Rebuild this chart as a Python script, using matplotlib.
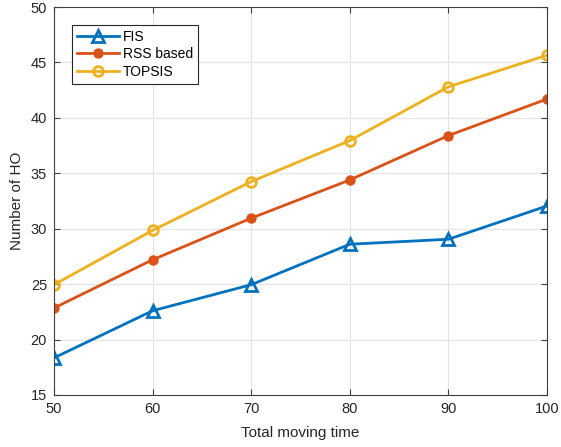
import matplotlib
matplotlib.use('Agg')
import matplotlib.pyplot as plt

plt.rcParams['font.family'] = ['Liberation Sans', 'DejaVu Sans']

# data
tiempo = [50, 60, 70, 80, 90, 100]
fis = [18.35, 22.6, 24.95, 28.6, 29.05, 32.05]
rss = [22.85, 27.2, 30.95, 34.4, 38.4, 41.7]
topsis = [24.95, 29.85, 34.25, 37.95, 42.8, 45.65]

fig = plt.figure(figsize=(5.61, 4.47), dpi=100)
# ejes: izquierda 54px, derecha 547px, arriba 7px, abajo 395px
ax = fig.add_axes([54/561, 52/447, 493/561, 388/447])

ax.plot(tiempo, fis, color='#0072BD', lw=2, marker='^', ms=8, mfc='none', mew=2, label='FIS')
ax.plot(tiempo, rss, color='#D95319', lw=2, marker='o', ms=6, mfc='#D95319', mew=1.5, label='RSS based')
ax.plot(tiempo, topsis, color='#EDB120', lw=2, marker='o', ms=7, mfc='none', mew=2, label='TOPSIS')

ax.set_xlim(50, 100)
ax.set_ylim(15, 50)
ax.set_xticks(range(50, 101, 10))
ax.set_yticks(range(15, 51, 5))
ax.grid(True, color='#e3e3e3', lw=0.8)
ax.set_axisbelow(True)
for s in ax.spines.values():
    s.set_color('#404040')
    s.set_linewidth(0.8)
ax.tick_params(direction='in', top=True, right=True, labelsize=10.5, colors='#404040',
               labelcolor='#262626', length=4, pad=5)
ax.set_xlabel('Total moving time', fontsize=11, color='#262626', labelpad=7)
ax.set_ylabel('Number of HO', fontsize=11, color='#262626', labelpad=5)

leg = ax.legend(loc='upper left', bbox_to_anchor=(0.0365, 0.954), borderaxespad=0, fontsize=10,
                fancybox=False, edgecolor='#262626', framealpha=1, handlelength=3.0,
                borderpad=0.35, labelspacing=0.25, handletextpad=0.3)
leg.get_frame().set_linewidth(0.8)

plt.savefig('out.png', dpi=100)
